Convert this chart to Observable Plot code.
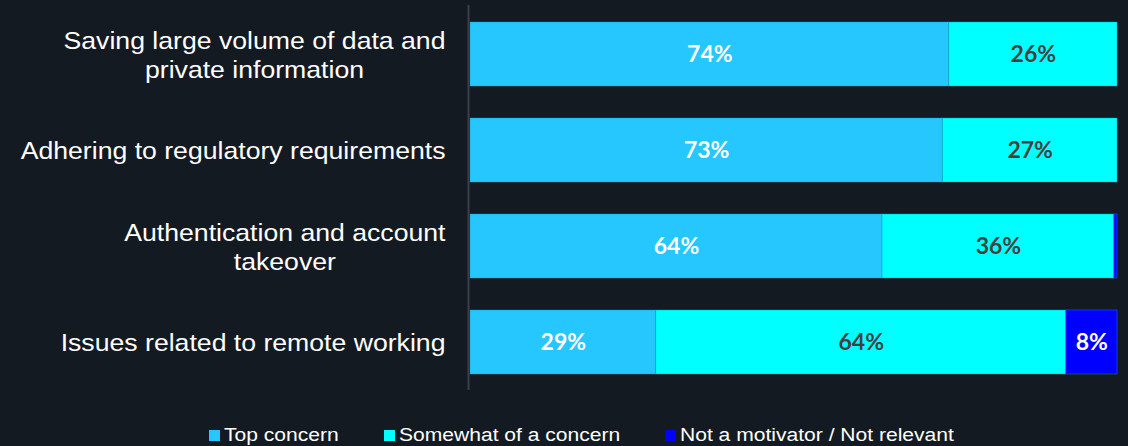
<!DOCTYPE html>
<html><head><meta charset="utf-8">
<script src="https://cdn.jsdelivr.net/npm/d3@7"></script>
<script src="https://cdn.jsdelivr.net/npm/@observablehq/plot@0.6"></script>
<style>
html,body{margin:0;padding:0;background:#131a22;}
#chart{width:1128px;height:446px;position:relative;overflow:hidden;background:#131a22;}
#chart svg{display:block;}
.legend{position:absolute;left:0;top:424px;width:1128px;height:22px;font-family:"Liberation Sans",Arial,sans-serif;font-size:18px;color:#ffffff;white-space:nowrap;}
.legend .item{position:absolute;top:0;display:flex;align-items:center;height:22px;}
.legend .sw{width:11px;height:11px;margin-right:4px;display:inline-block;flex:none;}
.legend .tx{display:inline-block;transform:scaleX(1.17);transform-origin:left center;}
</style>
</head><body><div id="chart"></div>
<script>
const categories = [
  "Saving large volume of data and\nprivate information",
  "Adhering to regulatory requirements",
  "Authentication and account\ntakeover",
  "Issues related to remote working"
];
const seriesNames = ["Top concern", "Somewhat of a concern", "Not a motivator / Not relevant"];
const topConcern   = [74, 73, 64, 29];
const somewhat     = [26, 27, 36, 64];
const notMotivator = [0, 0, 0.5, 8];
const seriesColors = ["#26c6ff", "#00ffff", "#0000ff"];
const labelColors  = ["#ffffff", "#404040", "#ffffff"];
const legendLeft   = [209, 384, 665];

const seriesValues = [topConcern, somewhat, notMotivator];
const data = [];
seriesNames.forEach((s, si) => {
  categories.forEach((c, ci) => {
    data.push({category: c, series: s, value: seriesValues[si][ci]});
  });
});

const catFontSize = 24;
const catStretch = 1.11;
const canvas = document.createElement("canvas");
const ctx = canvas.getContext("2d");
ctx.font = `${catFontSize}px 'Liberation Sans', Arial, sans-serif`;
const maxLineWidth = c => Math.max(...c.split("\n").map(l => ctx.measureText(l).width));

const stackOpts = {y: "category", x: "value", z: "series", order: seriesNames, offset: "normalize"};

const labelMark = (si) => Plot.text(data, Plot.stackX({
  ...stackOpts,
  text: d => (d.series === seriesNames[si] && d.value >= 1) ? `${d.value}%` : "",
  fill: labelColors[si],
  fontFamily: "Lato, 'Open Sans', sans-serif",
  fontWeight: 700,
  fontSize: 23
}));

const labelRight = 445;
const plot = Plot.plot({
  width: 1128,
  height: 410,
  marginLeft: 470,
  marginRight: 11,
  marginTop: 5,
  marginBottom: 20,
  style: {background: "#131a22", color: "#ffffff", overflow: "visible"},
  x: {domain: [0, 1], axis: null},
  y: {domain: categories, axis: null, paddingInner: 0.337, paddingOuter: 0.163},
  color: {domain: seriesNames, range: seriesColors},
  marks: [
    Plot.barX(data, Plot.stackX({
      ...stackOpts,
      fill: "series",
      stroke: "#0f9cb8",
      strokeWidth: 0.8,
      strokeOpacity: 0.5
    })),
    labelMark(0),
    labelMark(1),
    labelMark(2),
    Plot.ruleX([0], {stroke: "#3c3f44", strokeWidth: 2, dx: -2}),
    ...categories.map(c => Plot.text([c], {
      y: d => d,
      text: d => d,
      frameAnchor: "left",
      textAnchor: "middle",
      lineAnchor: "middle",
      lineHeight: 1.17,
      dx: -(470 - labelRight + maxLineWidth(c) / 2),
      fill: "#ffffff",
      fontFamily: "'Liberation Sans', Arial, sans-serif",
      fontSize: catFontSize,
      className: "catlabel"
    }))
  ]
});

// stretch category labels horizontally around their right edge
d3.select(plot).selectAll("g.catlabel, g[class*='catlabel']").each(function() {
  const g = d3.select(this);
  const prev = g.attr("transform") || "";
  g.attr("transform", `translate(${labelRight},0) scale(${catStretch},1) translate(${-labelRight},0) ${prev}`);
});

const chart = document.getElementById("chart");
chart.appendChild(plot);

const legend = document.createElement("div");
legend.className = "legend";
seriesNames.forEach((s, i) => {
  const item = document.createElement("div");
  item.className = "item";
  item.style.left = legendLeft[i] + "px";
  const sw = document.createElement("span");
  sw.className = "sw";
  sw.style.background = seriesColors[i];
  const t = document.createElement("span");
  t.className = "tx";
  t.textContent = s;
  item.appendChild(sw);
  item.appendChild(t);
  legend.appendChild(item);
});
chart.appendChild(legend);
</script>
</body></html>
